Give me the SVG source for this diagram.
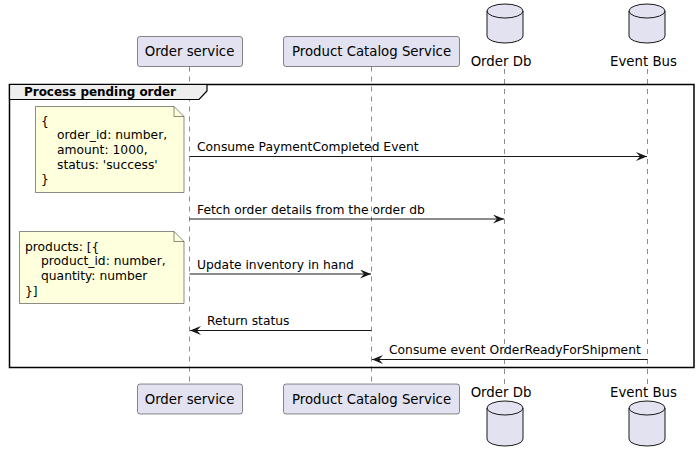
<svg xmlns="http://www.w3.org/2000/svg" width="698" height="462" viewBox="0 0 698 462">
<style>
text{font-family:"DejaVu Sans","Liberation Sans",sans-serif;fill:#000}
.pt{font-size:13.3px;text-anchor:middle}
.msg{font-size:12.3px}
.nt{font-size:12.3px}
.title{font-size:12px;font-weight:bold}
.box{fill:#E2E2F0;stroke:#181818;stroke-width:0.5}
.db{fill:#E2E2F0;stroke:#181818;stroke-width:1}
.life{stroke:#181818;stroke-width:0.5;stroke-dasharray:5,5;fill:none}
.note{fill:#FEFFDD;stroke:#181818;stroke-width:0.5}
.line{stroke:#181818;stroke-width:1;fill:none;marker-end:url(#ah)}
</style>
<defs>
<marker id="ah" markerUnits="userSpaceOnUse" markerWidth="11" markerHeight="9" refX="11" refY="4.5" orient="auto">
<path d="M0,0 L11,4.5 L0,9 L4,4.5 Z" fill="#181818"/>
</marker>
</defs>
<rect width="698" height="462" fill="#fff"/>
<g id="lifelines">
<line class="life" x1="189.5" y1="66.5" x2="189.5" y2="384"/>
<line class="life" x1="371.5" y1="66.5" x2="371.5" y2="384"/>
<line class="life" x1="504.5" y1="69" x2="504.5" y2="385"/>
<line class="life" x1="647.5" y1="69" x2="647.5" y2="385"/>
</g>
<g id="frame">
<rect x="9.5" y="84.5" width="684.5" height="283" fill="none" stroke="#000" stroke-width="1.5"/>
<path d="M9.5,84.5 L207,84.5 L207,91 L199,99.5 L9.5,99.5 Z" fill="#EEEEEE" stroke="#000" stroke-width="1.2"/>
<text class="title" x="24" y="96" textLength="152" lengthAdjust="spacingAndGlyphs">Process pending order</text>
</g>
<g id="p-order-service-top">
<rect class="box" x="137.5" y="36.5" width="105" height="30" rx="2.5"/>
<text class="pt" x="189.5" y="56">Order service</text>
</g>
<g id="p-catalog-top">
<rect class="box" x="283.5" y="36.5" width="176" height="30" rx="2.5"/>
<text class="pt" x="371.5" y="56">Product Catalog Service</text>
</g>
<g id="p-orderdb-top">
<path class="db" d="M487,11 A18,7 0 0 1 523,11 L523,36 A18,7 0 0 1 487,36 Z"/>
<path d="M487,11 A18,7 0 0 0 523,11" fill="none" stroke="#181818" stroke-width="1"/>
<text class="pt" x="501" y="66">Order Db</text>
</g>
<g id="p-eventbus-top">
<path class="db" d="M629,11 A18,7 0 0 1 665,11 L665,36 A18,7 0 0 1 629,36 Z"/>
<path d="M629,11 A18,7 0 0 0 665,11" fill="none" stroke="#181818" stroke-width="1"/>
<text class="pt" x="643.5" y="66">Event Bus</text>
</g>
<g id="p-order-service-bottom">
<rect class="box" x="137.5" y="384" width="105" height="30" rx="2.5"/>
<text class="pt" x="189.5" y="404">Order service</text>
</g>
<g id="p-catalog-bottom">
<rect class="box" x="283.5" y="384" width="176" height="30" rx="2.5"/>
<text class="pt" x="371.5" y="404">Product Catalog Service</text>
</g>
<g id="p-orderdb-bottom">
<path class="db" d="M487,408 A18,7 0 0 1 523,408 L523,439 A18,7 0 0 1 487,439 Z"/>
<path d="M487,408 A18,7 0 0 0 523,408" fill="none" stroke="#181818" stroke-width="1"/>
<text class="pt" x="501" y="397">Order Db</text>
</g>
<g id="p-eventbus-bottom">
<path class="db" d="M629,408 A18,7 0 0 1 665,408 L665,439 A18,7 0 0 1 629,439 Z"/>
<path d="M629,408 A18,7 0 0 0 665,408" fill="none" stroke="#181818" stroke-width="1"/>
<text class="pt" x="643.5" y="397">Event Bus</text>
</g>
<g id="note-payment">
<path class="note" d="M35.5,106.5 L174,106.5 L184,116.5 L184,192.5 L35.5,192.5 Z"/>
<path d="M174,106.5 L174,116.5 L184,116.5" fill="none" stroke="#181818" stroke-width="0.5"/>
<text class="nt" x="41" y="124.5">{</text>
<text class="nt" x="57" y="139.2">order_id: number,</text>
<text class="nt" x="57" y="153.9">amount: 1000,</text>
<text class="nt" x="57" y="168.6">status: 'success'</text>
<text class="nt" x="41" y="183.3">}</text>
</g>
<g id="note-products">
<path class="note" d="M19.5,231.5 L174,231.5 L184,241.5 L184,303.5 L19.5,303.5 Z"/>
<path d="M174,231.5 L174,241.5 L184,241.5" fill="none" stroke="#181818" stroke-width="0.5"/>
<text class="nt" x="25" y="250.5">products: [{</text>
<text class="nt" x="41" y="265.2">product_id: number,</text>
<text class="nt" x="41" y="279.9">quantity: number</text>
<text class="nt" x="25" y="294.6">}]</text>
</g>
<g id="connectors">
<line class="line" x1="189.5" y1="156.5" x2="647" y2="156.5"/>
<text class="msg" x="197" y="151">Consume PaymentCompleted Event</text>
<line class="line" x1="189.5" y1="219" x2="504" y2="219"/>
<text class="msg" x="197" y="213.5">Fetch order details from the order db</text>
<line class="line" x1="189.5" y1="274" x2="371" y2="274"/>
<text class="msg" x="197" y="268.5">Update inventory in hand</text>
<line class="line" x1="371.5" y1="330.5" x2="190" y2="330.5"/>
<text class="msg" x="207" y="325">Return status</text>
<line class="line" x1="647.5" y1="359.5" x2="372" y2="359.5"/>
<text class="msg" x="389" y="354">Consume event OrderReadyForShipment</text>
</g>
</svg>
